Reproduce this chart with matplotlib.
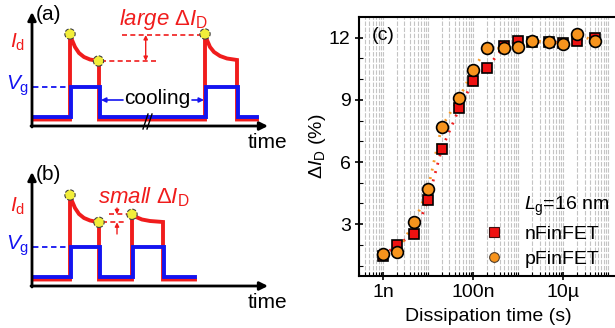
import matplotlib
matplotlib.use("Agg")
import matplotlib.pyplot as plt
from matplotlib.lines import Line2D
from matplotlib.ticker import FixedLocator, NullFormatter, FuncFormatter

plt.rcParams['font.family'] = ['Liberation Sans', 'DejaVu Sans']
plt.rcParams['mathtext.fontset'] = 'custom'
plt.rcParams['mathtext.rm'] = 'Liberation Sans'
plt.rcParams['mathtext.it'] = 'Liberation Sans:italic'

# -------------------------------
#  data for panel (c)
# -------------------------------
diss_time = [1e-9, 2e-9, 5e-9, 1e-8, 2e-8, 5e-8, 1e-7, 2e-7, 5e-7,
             1e-6, 2e-6, 5e-6, 1e-5, 2e-5, 5e-5]
n_finfet = [1.45, 2.0, 2.52, 4.16, 6.61, 8.61, 9.89, 10.53, 11.58,
            11.82, 11.79, 11.80, 11.74, 11.85, 11.98]
p_finfet = [1.54, 1.65, 3.10, 4.71, 7.69, 9.11, 10.44, 11.50, 11.50,
            11.55, 11.85, 11.80, 11.71, 12.18, 11.85]
x_tick_vals = [1e-9, 1e-7, 1e-5]
x_tick_labels = ["1n", "100n", "10\u00b5"]
y_tick_vals = [3, 6, 9, 12]

# -------------------------------
#  schematic waveforms (pixel units of the left half)
# -------------------------------
# panel (a)
a_red_x = [33, 70, 70, 72, 75, 79, 84, 90, 99, 99, 205, 205, 207, 210, 214, 220, 227, 237, 237, 257]
a_red_y = [119.5, 119.5, 34, 40, 47, 53, 57, 59.5, 61, 119.5, 119.5, 34, 40, 47, 52, 56, 58.5, 60, 119.5, 119.5]
a_blue_x = [33, 71, 71, 100, 100, 206, 206, 238, 238, 257]
a_blue_y = [116.5, 116.5, 86.7, 86.7, 116.5, 116.5, 86.7, 86.7, 116.5, 116.5]
a_dots_x = [70, 98.5, 205]
a_dots_y = [34, 61, 34]

# panel (b)
b_red_x = [33, 70, 70, 72, 75, 79, 84, 90, 99, 99, 132, 132, 136, 142, 150, 163, 163, 195]
b_red_y = [279.5, 279.5, 195, 201, 208, 214, 218, 220.5, 222.3, 279.5, 279.5, 214.3, 217, 219.5, 221, 222, 279.5, 279.5]
b_blue_x = [33, 71, 71, 100, 100, 133, 133, 164, 164, 195]
b_blue_y = [276.7, 276.7, 246.7, 246.7, 276.7, 276.7, 246.7, 246.7, 276.7, 276.7]
b_dots_x = [70, 99, 132]
b_dots_y = [195, 222.3, 214.3]

RED = '#f01c1c'
BLUE = '#1414f0'
YEL = '#f2ee3a'

fig = plt.figure(figsize=(6.15, 3.28), dpi=100)

# ===============================
#  left half: schematics (a), (b)
# ===============================
ax = fig.add_axes([0, 0, 310 / 615, 1])
ax.set_xlim(0, 310)
ax.set_ylim(328, 0)
ax.axis('off')

arrow = dict(arrowstyle='-|>', color='black', lw=2.0, mutation_scale=12, shrinkA=0, shrinkB=0)
for y0 in (126, 286):
    ax.annotate('', xy=(32, y0 - 114), xytext=(32, y0 + 1), arrowprops=arrow)
    ax.annotate('', xy=(268, y0), xytext=(31, y0), arrowprops=arrow)

ax.plot(a_red_x, a_red_y, color=RED, lw=2.8, solid_joinstyle='miter')
ax.plot(a_blue_x, a_blue_y, color=BLUE, lw=2.8, solid_joinstyle='miter')
ax.plot(b_red_x, b_red_y, color=RED, lw=2.8, solid_joinstyle='miter')
ax.plot(b_blue_x, b_blue_y, color=BLUE, lw=2.8, solid_joinstyle='miter')

# Vg level dashes
ax.plot([33, 70], [86.7, 86.7], color=BLUE, lw=1.3, ls=(0, (3, 2)))
ax.plot([33, 70], [246.7, 246.7], color=BLUE, lw=1.3, ls=(0, (3, 2)))

# (a) delta markers
ax.plot([122, 204], [34.5, 34.5], color=RED, lw=1.2, ls=(0, (3, 2)))
ax.plot([101, 158], [61, 61], color=RED, lw=1.2, ls=(0, (3, 2)))
ax.annotate('', xy=(145.7, 35), xytext=(145.7, 61),
            arrowprops=dict(arrowstyle='<|-|>', color=RED, lw=1.0, mutation_scale=6, shrinkA=0, shrinkB=0))
ax.text(164, 19, r'$\mathit{large\ \Delta I}_\mathrm{D}$', color=RED, fontsize=16,
        ha='center', va='center')

# (b) delta markers
ax.plot([109, 130], [214.3, 214.3], color=RED, lw=1.2, ls=(0, (3, 2)))
ax.plot([102, 127], [222.3, 222.3], color=RED, lw=1.2, ls=(0, (3, 2)))
ax.annotate('', xy=(117, 214.3), xytext=(117, 208),
            arrowprops=dict(arrowstyle='-|>', color=RED, lw=1.0, mutation_scale=6, shrinkA=0, shrinkB=0))
ax.annotate('', xy=(117, 222.3), xytext=(117, 234),
            arrowprops=dict(arrowstyle='-|>', color=RED, lw=1.0, mutation_scale=6, shrinkA=0, shrinkB=0))
ax.text(144, 197, r'$\mathit{small\ \Delta I}_\mathrm{D}$', color=RED, fontsize=16,
        ha='center', va='center')

# yellow peak markers
ax.scatter(a_dots_x, a_dots_y, s=55, c=YEL, edgecolors='#404040', linewidths=0.8,
           linestyles='--', zorder=5)
ax.scatter(b_dots_x, b_dots_y, s=55, c=YEL, edgecolors='#404040', linewidths=0.8,
           linestyles='--', zorder=5)

# cooling arrows
ax.annotate('', xy=(101, 100), xytext=(123, 100),
            arrowprops=dict(arrowstyle='-|>', color=BLUE, lw=1.2, mutation_scale=7, shrinkA=0, shrinkB=0))
ax.annotate('', xy=(204, 100), xytext=(192, 100),
            arrowprops=dict(arrowstyle='-|>', color=BLUE, lw=1.2, mutation_scale=7, shrinkA=0, shrinkB=0))
ax.text(157.5, 99, 'cooling', fontsize=15, ha='center', va='center')

# axis break
ax.plot([143, 148], [129, 114], color='black', lw=1.0)
ax.plot([147, 152], [129, 114], color='black', lw=1.0)

for y0, lab in ((0, '(a)'), (160, '(b)')):
    ax.text(36, y0 + 15, lab, fontsize=15, ha='left', va='center')
    ax.text(10, y0 + 42 if lab == '(a)' else y0 + 46, r'$\mathit{I}_\mathrm{d}$', color=RED,
            fontsize=15, ha='left', va='center')
    ax.text(6, y0 + 86, r'$\mathit{V}_\mathrm{g}$', color=BLUE,
            fontsize=15, ha='left', va='center')
    ax.text(267, y0 + 142, 'time', fontsize=15, ha='center', va='center')

# ===============================
#  right half: panel (c)
# ===============================
axc = fig.add_axes([359 / 615, 1 - 276 / 328, 258 / 615, 259 / 328])
axc.set_xscale('log')
axc.set_xlim(2.93e-10, 1.58e-4)
axc.set_ylim(0.5, 13)

axc.plot(diss_time, n_finfet, color='#ee2222', lw=2.0, ls=(0, (0.7, 2.4)), zorder=2)
axc.plot(diss_time, p_finfet, color='#f79a28', lw=2.0, ls=(0, (0.7, 2.4)), zorder=2)
axc.plot(diss_time, n_finfet, ls='none', marker='s', ms=7.5, mfc='#ee1111', mec='black',
         mew=1.2, zorder=3)
axc.plot(diss_time, p_finfet, ls='none', marker='o', ms=8.5, mfc='#f7941d', mec='black',
         mew=1.2, zorder=4)

decades = [10.0 ** k for k in range(-10, -3)]
minor = [d * m for d in decades for m in range(1, 10) if d * m not in x_tick_vals]
axc.xaxis.set_major_locator(FixedLocator(x_tick_vals))
axc.xaxis.set_major_formatter(FuncFormatter(lambda v, p: x_tick_labels[x_tick_vals.index(v)]
                                            if v in x_tick_vals else ''))
axc.xaxis.set_minor_locator(FixedLocator(minor))
axc.xaxis.set_minor_formatter(NullFormatter())
axc.yaxis.set_major_locator(FixedLocator(y_tick_vals))
axc.yaxis.set_minor_locator(FixedLocator(list(range(1, 13))))
axc.grid(True, which='both', axis='x', color='#c4c4c4', lw=0.8, ls=(0, (4, 1.5)), zorder=0)
axc.set_axisbelow(True)

axc.tick_params(which='major', direction='inout', length=6, width=1.2, labelsize=14, pad=3)
axc.tick_params(which='minor', direction='in', length=3, width=0.8)
axc.spines['right'].set_visible(False)
for s in ('left', 'bottom', 'top'):
    axc.spines[s].set_linewidth(1.5)

axc.set_xlabel('Dissipation time (s)', fontsize=14, labelpad=5)
axc.set_ylabel(r'$\Delta\mathit{I}_\mathrm{D}$ (%)', fontsize=14, labelpad=1)
axc.text(0.05, 0.93, '(c)', transform=axc.transAxes, fontsize=14, ha='left', va='center')
axc.text(0.97, 0.27, r'$\mathit{L}_\mathrm{g}$=16 nm', transform=axc.transAxes,
         fontsize=14, ha='right', va='center')
handles = [Line2D([], [], ls='none', marker='s', ms=6.5, mfc='#ee1111', mec='#401010', mew=0.8),
           Line2D([], [], ls='none', marker='o', ms=7, mfc='#f7941d', mec='#504030', mew=0.8)]
axc.legend(handles, ['nFinFET', 'pFinFET'], loc='lower right', bbox_to_anchor=(1.0, -0.035),
           frameon=False, fontsize=14, handlelength=1.0, handletextpad=1.1, labelspacing=0.35)

fig.savefig('out.png', dpi=100)
